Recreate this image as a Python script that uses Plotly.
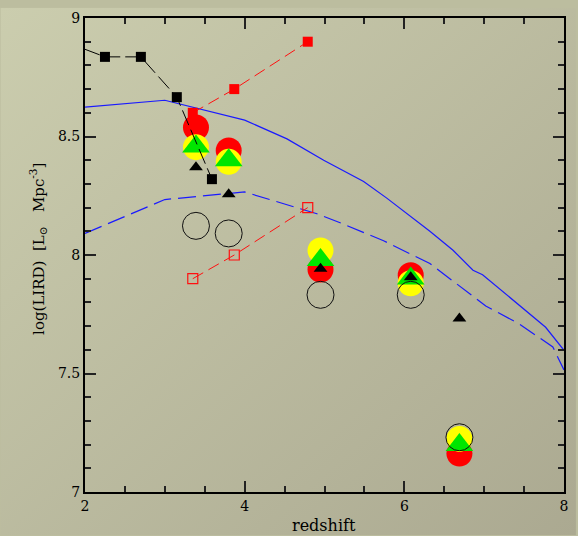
import base64
import plotly.graph_objects as go

# Black squares (with leading segment coming in from the left)
blk_sq_z = [1.75, 2.25, 2.70, 3.15, 3.59]
blk_sq_y = [8.90, 8.836, 8.836, 8.666, 8.32]

# Red filled / open squares
red_sq_z = [3.35, 3.87, 4.79]
red_sq_y = [8.60, 8.70, 8.90]
red_open_z = [3.35, 3.87, 4.79]
red_open_y = [7.90, 8.00, 8.20]

# Model curves
blue_solid_z = [2.0, 3.0, 4.0, 4.53, 4.99, 5.49, 5.78, 5.99, 6.32, 6.61, 6.86, 6.98, 7.44, 7.77, 8.0]
blue_solid_y = [8.624, 8.653, 8.569, 8.49, 8.40, 8.31, 8.24, 8.185, 8.10, 8.02, 7.936, 7.917, 7.79, 7.695, 7.598]
blue_dash_z = [2.0, 3.0, 4.0, 4.53, 4.905, 5.24, 5.74, 6.32, 6.82, 7.02, 7.44, 7.86, 8.0]
blue_dash_y = [8.091, 8.234, 8.266, 8.213, 8.174, 8.13, 8.06, 7.964, 7.834, 7.785, 7.709, 7.612, 7.515]

# Point estimates per redshift bin
grp_z = [3.39, 3.80, 4.95, 6.08, 6.69]
red_circ_y = [8.538, 8.441, 7.939, 7.915, 7.162]
yel_circ_y = [8.455, 8.393, 8.019, 7.881, 7.224]
grn_tri_y = [8.458, 8.400, 7.979, 7.901, 7.198]
open_circ_y = [8.123, 8.091, 7.832, 7.832, 7.231]
blk_tri_z = [3.39, 3.80, 4.95, 6.08, 6.69]
blk_tri_y = [8.370, 8.256, 7.942, 7.906, 7.732]

fig = go.Figure()

fig.add_trace(go.Scatter(x=blue_solid_z, y=blue_solid_y, mode="lines",
                         line=dict(color="#1a1aff", width=1.2)))
fig.add_trace(go.Scatter(x=blue_dash_z, y=blue_dash_y, mode="lines",
                         line=dict(color="#1a1aff", width=1.2, dash="18px,7px")))

fig.add_trace(go.Scatter(x=red_open_z, y=red_open_y, mode="lines+markers",
                         line=dict(color="#ff1010", width=1, dash="12px,6px"),
                         marker=dict(symbol="square-open", size=10, color="#ff1010",
                                     line=dict(width=1.2))))

fig.add_trace(go.Scatter(x=grp_z, y=red_circ_y, mode="markers",
                         marker=dict(symbol="circle", size=26, color="#ff0000",
                                     line=dict(width=0))))
fig.add_trace(go.Scatter(x=grp_z, y=yel_circ_y, mode="markers",
                         marker=dict(symbol="circle", size=26, color="#ffff00",
                                     line=dict(width=0))))
fig.add_trace(go.Scatter(x=grp_z, y=grn_tri_y, mode="markers",
                         marker=dict(symbol="triangle-up", size=24, color="#00e600",
                                     line=dict(width=0))))
fig.add_trace(go.Scatter(x=blk_tri_z, y=blk_tri_y, mode="markers",
                         marker=dict(symbol="triangle-up", size=12, color="#000000",
                                     line=dict(width=0))))
fig.add_trace(go.Scatter(x=grp_z, y=open_circ_y, mode="markers",
                         marker=dict(symbol="circle-open", size=27, color="#111111",
                                     line=dict(width=1))))

fig.add_trace(go.Scatter(x=red_sq_z, y=red_sq_y, mode="lines+markers",
                         line=dict(color="#ff1010", width=1, dash="12px,6px"),
                         marker=dict(symbol="square", size=10, color="#ff0000")))
fig.add_trace(go.Scatter(x=blk_sq_z, y=blk_sq_y, mode="lines+markers",
                         line=dict(color="#000000", width=1, dash="16px,5px"),
                         marker=dict(symbol="square", size=10, color="#000000")))

# Diagonal gradient backdrop behind the whole page
svg = ('<svg xmlns="http://www.w3.org/2000/svg" width="578" height="536">'
       '<defs><linearGradient id="g" x1="0" y1="0" x2="1" y2="1">'
       '<stop offset="0" stop-color="#cbcdae"/>'
       '<stop offset="1" stop-color="#aba991"/>'
       '</linearGradient></defs>'
       '<rect width="578" height="536" fill="url(#g)"/></svg>')
bg_uri = "data:image/svg+xml;base64," + base64.b64encode(svg.encode()).decode()

pw, ph = 481.0, 481.5
fig.add_layout_image(dict(source=bg_uri, xref="paper", yref="paper",
                          x=-85 / pw, y=1 + 10.5 / ph, sizex=578 / pw, sizey=536 / ph,
                          xanchor="left", yanchor="top", sizing="stretch",
                          layer="below"))

font_main = "DejaVu Serif"
axis_common = dict(showgrid=False, zeroline=False, showline=True, linecolor="#000000",
                   linewidth=2, mirror="allticks", ticks="inside", ticklen=11,
                   tickwidth=1.5, tickcolor="#222222",
                   tickfont=dict(family=font_main, size=14, color="#000000"))

nb = "\u00a0"
fig.update_layout(
    width=578, height=536,
    margin=dict(l=85, r=12, t=10, b=44),
    paper_bgcolor="#bcbd9f", plot_bgcolor="rgba(0,0,0,0)",
    showlegend=False,
    xaxis=dict(range=[2, 8], tick0=2, dtick=2,
               minor=dict(dtick=0.5, ticks="inside", ticklen=6, tickwidth=1.5,
                          tickcolor="#222222"),
               **axis_common),
    yaxis=dict(range=[7, 9], tick0=7, dtick=0.5,
               minor=dict(dtick=0.1, ticks="inside", ticklen=6, tickwidth=1.5,
                          tickcolor="#222222"),
               **axis_common),
    annotations=[
        dict(text="redshift", xref="paper", yref="paper", x=0.499, y=-0.07,
             xanchor="center", yanchor="middle", showarrow=False,
             font=dict(family=font_main, size=16, color="#000000")),
        dict(text=f"log(LIRD){nb}{nb}[L<sub>\u2299</sub>{nb}{nb}{nb}Mpc<sup>-3</sup>]",
             xref="paper", yref="paper", x=-0.098, y=0.513, textangle=-90,
             xanchor="center", yanchor="middle", showarrow=False,
             font=dict(family=font_main, size=15, color="#000000")),
    ],
)

fig.write_html("out.html")
